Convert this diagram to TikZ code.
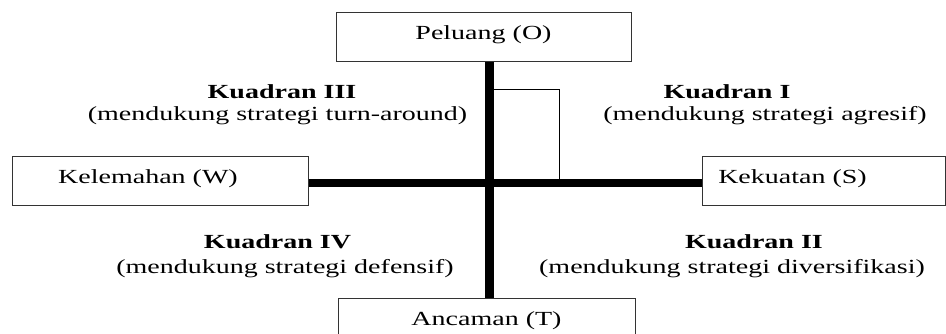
\documentclass[tikz,border=0pt]{standalone}
\usepackage{fontspec}
\setmainfont{Liberation Serif}
\usepackage{graphicx}
\newcommand{\lebar}[1]{\scalebox{1.4}[1]{#1}}
\tikzset{
  kotak/.style={draw=black!80, line width=1pt, inner sep=0pt, minimum height=49pt,
    text height=27pt, text depth=22pt, font=\fontsize{20}{24}\selectfont},
  ket/.style={anchor=base, inner sep=0pt, font=\fontsize{20}{24}\selectfont}
}

\begin{document}
\begin{tikzpicture}[x=1pt,y=-1pt]
\clip (0,0) rectangle (946,334);
\node [kotak, minimum width=295pt] (O) at (483.5,37.5) {\lebar{Peluang (O)}};
\node [kotak, minimum width=297pt] (T) at (486.5,322.5) {\lebar{Ancaman (T)}};
\node [kotak, minimum width=296pt] (W) at (160,181.5) {\lebar{Kelemahan (W)}\hspace*{24pt}};
\node [kotak, minimum width=243pt] (S) at (823.5,181.5) {\lebar{Kekuatan (S)}\hspace*{62pt}};
\coordinate (c) at (489.5,183);
\coordinate (k) at (559,90);
\draw [line width=9pt] (c |- O.south) to (c |- T.north);
\draw [line width=8pt] (c -| W.east) to (c -| S.west);
\draw [line width=1pt] (k -| c) to (k) to (k |- c);
\node [ket] (k3) at (282,99) {\lebar{\textbf{Kuadran III}}};
\node [ket] (k3s) at (277.5,121) {\lebar{(mendukung strategi turn-around)}};
\node [ket] (k1) at (727,99) {\lebar{\textbf{Kuadran I}}};
\node [ket] (k1s) at (765,121) {\lebar{(mendukung strategi agresif)}};
\node [ket] (k4) at (277.5,248) {\lebar{\textbf{Kuadran IV}}};
\node [ket] (k4s) at (285,273) {\lebar{(mendukung strategi defensif)}};
\node [ket] (k2) at (754,248) {\lebar{\textbf{Kuadran II}}};
\node [ket] (k2s) at (732,273) {\lebar{(mendukung strategi diversifikasi)}};
\end{tikzpicture}
\end{document}
